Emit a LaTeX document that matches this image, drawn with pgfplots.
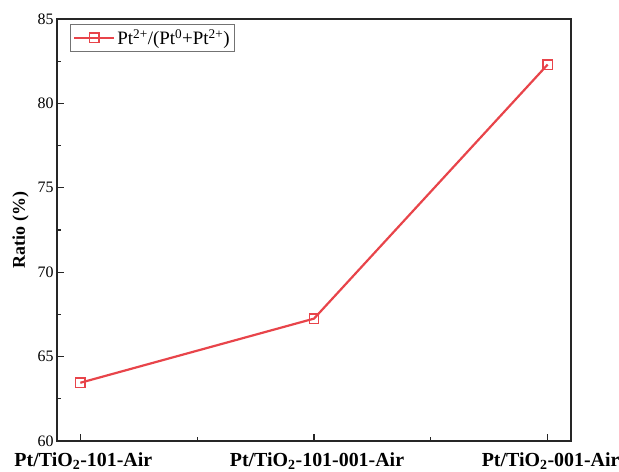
\documentclass[border=0pt]{standalone}
\usepackage{pgfplots}
\pgfplotsset{compat=1.18}
\usepackage{fontspec}
\setmainfont{Liberation Serif}
\definecolor{lred}{HTML}{E8444A}
\begin{document}
\begin{tikzpicture}
\begin{axis}[
  scale only axis, width=514bp, height=422bp,
  xmin=-0.1, xmax=2.1, ymin=60, ymax=85,
  xtick={0,1,2},
  xticklabels={Pt/TiO\textsubscript{2}-101-Air, Pt/TiO\textsubscript{2}-101-001-Air, Pt/TiO\textsubscript{2}-001-Air},
  minor xtick={0.5,1.5},
  ytick={60,65,...,85}, minor ytick={62.5,67.5,...,82.5},
  tick align=inside, major tick length=7bp, minor tick length=4bp,
  xtick pos=bottom, ytick pos=left,
  axis line style={line width=1.4pt, black!85},
  every tick/.style={line width=1.3pt, black!85},
  /pgf/number format/assume math mode=true,
  yticklabel style={font=\fontsize{16}{16}\selectfont},
  xticklabel style={font=\fontsize{20}{20}\selectfont\bfseries, yshift=-8pt, xshift=3pt},
  ylabel={Ratio (\%)},
  ylabel style={font=\fontsize{18}{18}\selectfont\bfseries, yshift=2pt},
  legend style={at={(axis description cs:0.025,0.988)}, anchor=north west,
    draw=black!55, line width=0.7pt, font=\fontsize{19}{19}\selectfont,
    inner xsep=3pt, inner ysep=3pt, row sep=0pt},
  legend cell align=left,
  legend image code/.code={\draw[mark repeat=2,mark phase=2] plot coordinates {(0bp,0bp) (20bp,0bp) (40bp,0bp)};},
]
\addplot[color=lred, line width=2.2pt, mark=square, mark size=4.7bp,
  mark options={line width=1.5pt, fill=white}]
  coordinates {(0,63.45) (1,67.25) (2,82.3)};
\addlegendentry{Pt\textsuperscript{2+}/(Pt\textsuperscript{0}+Pt\textsuperscript{2+})}
\end{axis}
\pgfresetboundingbox
\path[use as bounding box] ([shift={(-57bp,-31bp)}]current axis.south west) rectangle ([shift={(48bp,19bp)}]current axis.north east);
\end{tikzpicture}
\end{document}
